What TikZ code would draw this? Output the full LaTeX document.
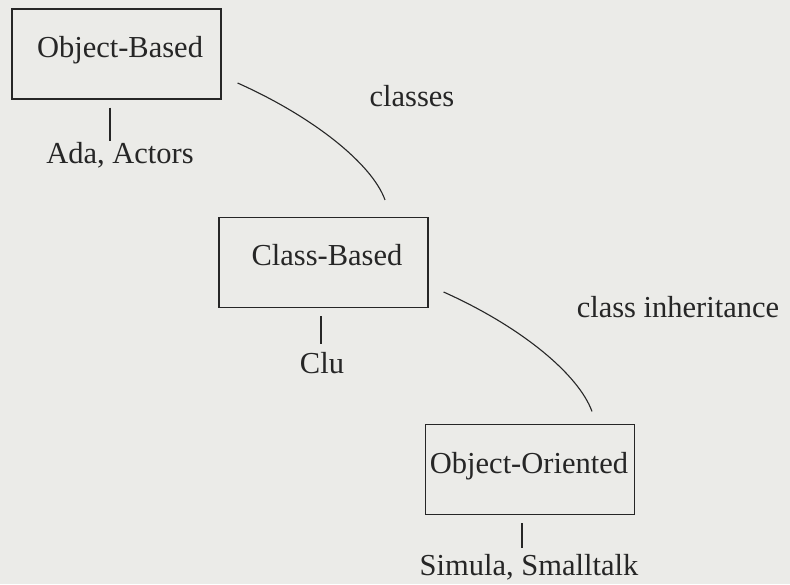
\documentclass[tikz,border=0pt]{standalone}
\usepackage{fontspec}
\setmainfont{Liberation Serif}
\usetikzlibrary{calc}
\begin{document}
\definecolor{paper}{HTML}{EBEBE8}
\definecolor{ink}{HTML}{262626}
\begin{tikzpicture}[x=1pt,y=-1pt,
  box/.style={draw=ink,line width=1.2pt,rectangle,inner sep=0pt,minimum width=209pt,minimum height=90pt},
  txt/.style={text=ink,anchor=base,inner sep=0pt,font=\fontsize{30.5}{35}\selectfont},
  tick/.style={draw=ink,line width=1.1pt},
  arc/.style={draw=ink,line width=1.1pt}]
\fill[paper] (0,0) rectangle (790,584);
\useasboundingbox (0,0) rectangle (790,584);

% the three boxes
\node[box] (ob) at (116.5,54) {};
\node[box] (cb) at (323.5,262.5) {};
\node[box] (oo) at (530,469.5) {};

% box titles
\node[txt] (obt) at (120,57) {Object-Based};
\node[txt] (cbt) at (327,265) {Class-Based};
\node[txt] (oot) at (529,473) {Object-Oriented};

% example languages below each box
\node[txt] (ada) at (120,163) {Ada, Actors};
\node[txt] (clu) at (322,373) {Clu};
\node[txt] (sim) at (529,575) {Simula,\ Smalltalk};

\draw[tick] ($(ob.south)+(-6.5,8)$) -- ++(0,33);
\draw[tick] ($(cb.south)+(-2.5,8)$) -- ++(0,28);
\draw[tick] ($(oo.south)+(-8,8)$) -- ++(0,25);

% refinement arcs with their labels
\coordinate (a1s) at ($(ob.east)+(16,29)$);
\coordinate (a1e) at ($(cb.north)+(61.5,-17)$);
\coordinate (a2s) at ($(cb.east)+(15,29.5)$);
\coordinate (a2e) at ($(oo.north)+(62,-12.5)$);
\draw[arc] (a1s) .. controls ++(76,34) and ($(a1e)+(-13,-36)$) .. (a1e);
\draw[arc] (a2s) .. controls ++(76,34) and ($(a2e)+(-14,-38)$) .. (a2e);

\node[txt] (cls) at (412,106) {classes};
\node[txt] (inh) at (678,317) {class inheritance};
\end{tikzpicture}
\end{document}
